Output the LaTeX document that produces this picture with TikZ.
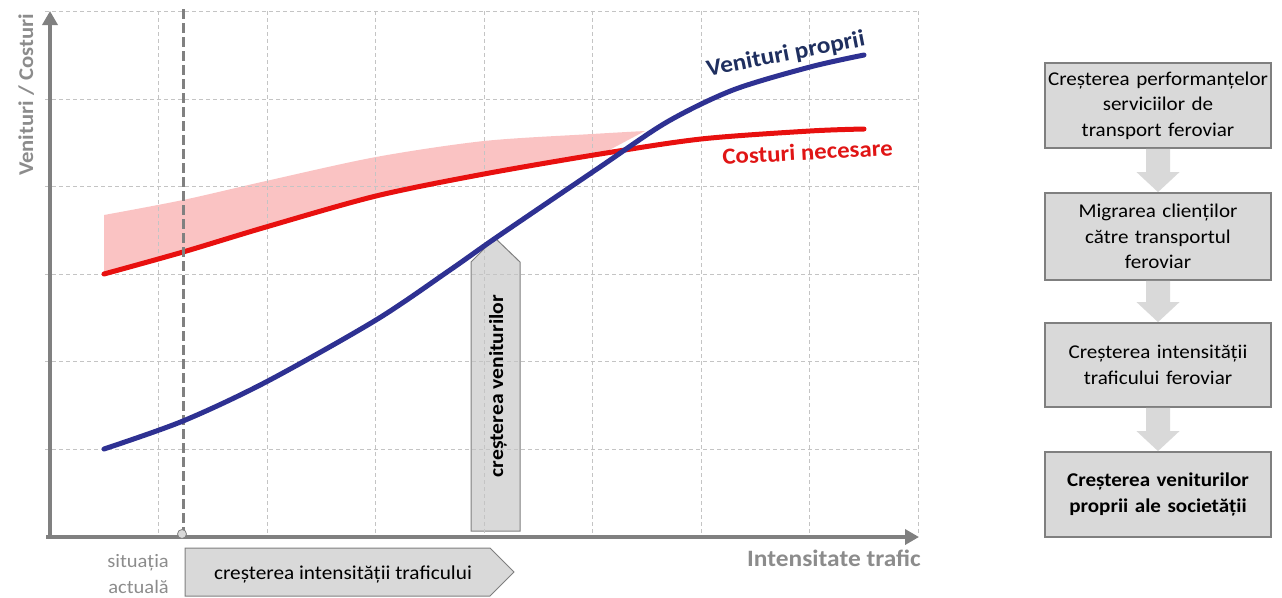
\documentclass[tikz,border=0pt]{standalone}
\usepackage{fontspec}
\setmainfont[FakeStretch=1.08]{Carlito}
\usetikzlibrary{arrows.meta,calc}
\definecolor{axisgray}{HTML}{808080}
\definecolor{gridgray}{HTML}{C4C4C4}
\definecolor{labelgray}{HTML}{8C8C8C}
\definecolor{boxfill}{HTML}{D9D9D9}
\definecolor{boxline}{HTML}{7F7F7F}
\definecolor{curveblue}{HTML}{2E3192}
\definecolor{curvered}{HTML}{E8100F}
\definecolor{pinkband}{HTML}{FAC3C3}
\definecolor{navytext}{HTML}{1F2F5F}
\definecolor{redtext}{HTML}{E01515}
\newcommand\flowarrow[2]{%
  \fill[boxfill] let \p1=(#1.south), \p2=(#2.north) in
   (\x1-12pt,\y1) -- (\x1+12pt,\y1) -- (\x1+12pt,\y2+20pt) -- (\x1+21.5pt,\y2+20pt)
   -- (\x1,\y2) -- (\x1-21.5pt,\y2+20pt) -- (\x1-12pt,\y2+20pt) -- cycle;}
\begin{document}
\begin{tikzpicture}[x=1pt,y=-1pt,
  gridline/.style={gridgray, line width=0.8pt, dash pattern=on 4pt off 3pt},
  axisline/.style={axisgray, line width=4pt, -{Triangle[length=14pt,width=15pt]}},
  curve/.style={line width=5pt, line cap=round, line join=round},
  arrowshape/.style={fill=boxfill, draw=boxline, line width=1pt, line join=miter},
  flowbox/.style={draw=boxline, line width=1.8pt, fill=boxfill, minimum width=226pt,
    minimum height=85pt, text width=224pt, align=center, inner sep=0pt,
    font=\fontsize{19.5}{25.5}\selectfont},
  graylabel/.style={labelgray, inner sep=0pt},
]
\useasboundingbox (0,0) rectangle (1282,597);
% pink band
\fill[pinkband] plot[smooth] coordinates {(104,215) (183,200) (266,181) (376,157) (484,141) (592,134) (645,131)}
  -- (600,155) -- plot[smooth] coordinates {(592,156) (484,174) (376,196) (266,227) (183,252) (104,274)} -- cycle;
% vertical arrow box (under grid)
\draw[arrowshape] (471,531) -- (471,262) -- (495,238) -- (520,262) -- (520,531) -- cycle;
% grid
\foreach \gx in {158.5,267,375.5,484,592.5,701,809.5,918}
  \draw[gridline] (\gx,11) -- (\gx,534);
\foreach \gy in {11,99,186.5,274,361.5,449}
  \draw[gridline] (45,\gy) -- (918,\gy);
% axes
\draw[axisline] (50,539) -- (50,11);
\draw[axisline] (46,537) -- (919,537);
% red curve
\draw[curve, curvered] plot[smooth] coordinates {(104,274) (183,252) (266,227) (376,196) (484,174) (600,154) (701,139) (810,131) (864,129)};
% current situation dashed line
\draw[axisgray, line width=3pt, dash pattern=on 10pt off 4pt] (183,9) -- (183,530);
\draw[fill=boxfill, draw=axisgray, line width=0.8pt] (182,534) circle (4.5pt);
% blue curve
\draw[curve, curveblue] plot[smooth] coordinates {(104,449) (183,421) (266,382) (376,320) (450,270) (497,237) (600,167) (667,122) (733,90) (810,67) (864,55)};
% labels
\node[navytext, font=\fontsize{23.5}{28}\selectfont\bfseries, rotate=11, anchor=base, inner sep=0pt] (lvp) at (787,61) {Venituri proprii};
\node[redtext, font=\fontsize{23}{28}\selectfont\bfseries, rotate=3, anchor=base, inner sep=0pt] (lcn) at (808,160) {Costuri necesare};
\node[graylabel, font=\fontsize{21}{25}\selectfont\bfseries, rotate=90, anchor=base] (ylab) at (33,95) {Venituri / Costuri};
\node[graylabel, font=\fontsize{23.5}{28}\selectfont\bfseries, anchor=base] (xlab) at (834,566) {Intensitate trafic};
\node[graylabel, font=\fontsize{19}{25}\selectfont, anchor=base east] (sit1) at (169,567) {situația};
\node[graylabel, font=\fontsize{19}{25}\selectfont, anchor=base east] (sit2) at (169,593) {actuală};
% bottom arrow
\draw[arrowshape] (185,548) -- (490,548) -- (514,572) -- (490,596) -- (185,596) -- cycle;
\node[inner sep=0pt, font=\fontsize{19.7}{24}\selectfont, anchor=base] (ltrafic) at (343,579) {creșterea intensității traficului};
\node[inner sep=0pt, font=\fontsize{20}{24}\selectfont\bfseries, rotate=90, anchor=base] (lven) at (503,386) {creșterea veniturilor};
% flowchart
\node[flowbox] (b1) at (1158,105.5) {Creșterea performanțelor\\ serviciilor de\\ transport feroviar};
\node[flowbox, minimum height=87pt] (b2) at (1158,236.5) {Migrarea clienților\\ către transportul\\ feroviar};
\node[flowbox, minimum height=84pt] (b3) at (1158,365) {Creșterea intensității\\ traficului feroviar};
\node[flowbox, font=\fontsize{19.5}{25.5}\selectfont\bfseries] (b4) at (1158,494.5) {Creșterea veniturilor\\ proprii ale societății};
\flowarrow{b1}{b2}
\flowarrow{b2}{b3}
\flowarrow{b3}{b4}
\end{tikzpicture}
\end{document}
